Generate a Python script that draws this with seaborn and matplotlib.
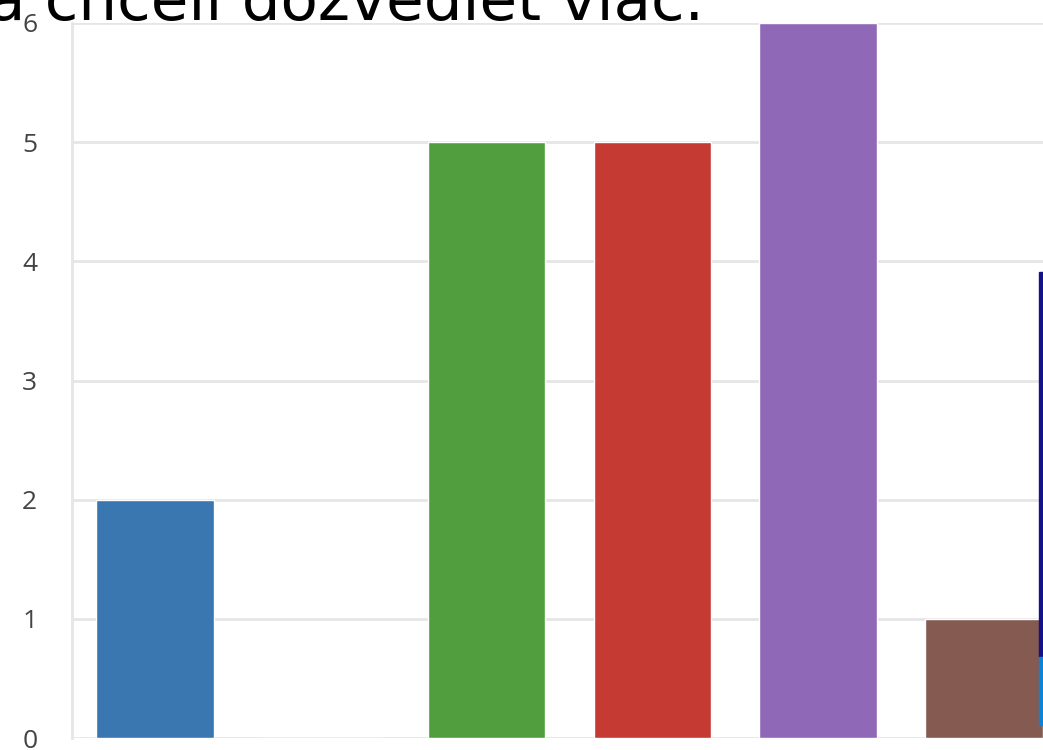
"""Bar chart of answer counts, cropped view with the caption overlapping the top."""

import matplotlib

matplotlib.use("Agg")

import matplotlib.pyplot as plt
import pandas as pd
import seaborn as sns
from matplotlib.patches import Rectangle

# data
categories = ["1", "2", "3", "4", "5", "6"]
counts = [2, 0, 5, 5, 6, 1]
bar_colors = ["#3a76b0", "#e08a3a", "#519e3e", "#c53b33", "#8f69b8", "#855a50"]
y_ticks = [0, 1, 2, 3, 4, 5, 6]
caption = "a chceli dozvedieť viac."

sns.set_theme(style="white")
plt.rcParams["font.family"] = ["Open Sans", "DejaVu Sans"]

df = pd.DataFrame({"category": categories, "count": counts})

fig = plt.figure(figsize=(10.43, 7.5), dpi=100)
ax = fig.add_axes([72 / 1043, 12 / 750, 995 / 1043, 715 / 750])

sns.barplot(
    data=df,
    x="category",
    y="count",
    hue="category",
    palette=bar_colors,
    saturation=1,
    width=0.71,
    legend=False,
    ax=ax,
)

ax.set_xlim(-0.5, len(categories) - 0.5)
ax.set_ylim(0, 6)
ax.set_yticks(y_ticks)
ax.set_yticklabels([str(t) for t in y_ticks], fontsize=19, color="#444444")
ax.set_xticks([])
ax.set_xlabel("")
ax.set_ylabel("")
ax.yaxis.grid(True, color="#e6e6e6", linewidth=2)
ax.set_axisbelow(True)
ax.tick_params(axis="y", length=18, width=2, color="#e6e6e6", pad=7)
for side in ["top", "right", "bottom"]:
    ax.spines[side].set_visible(False)
ax.spines["left"].set_color("#e6e6e6")
ax.spines["left"].set_linewidth(2)

# overlay widget at the right edge of the screenshot
fig.patches.append(
    Rectangle((1039 / 1043, 93 / 750), 4 / 1043, 385 / 750,
              transform=fig.transFigure, color="#13128a", zorder=5)
)
fig.patches.append(
    Rectangle((1039 / 1043, 25 / 750), 4 / 1043, 68 / 750,
              transform=fig.transFigure, color="#0a84d8", zorder=5)
)

fig.text(-12 / 1043, 730 / 750, caption, fontsize=44, color="black",
         family=["DejaVu Sans"], va="baseline", ha="left", zorder=10)

fig.savefig("out.png", dpi=100)
